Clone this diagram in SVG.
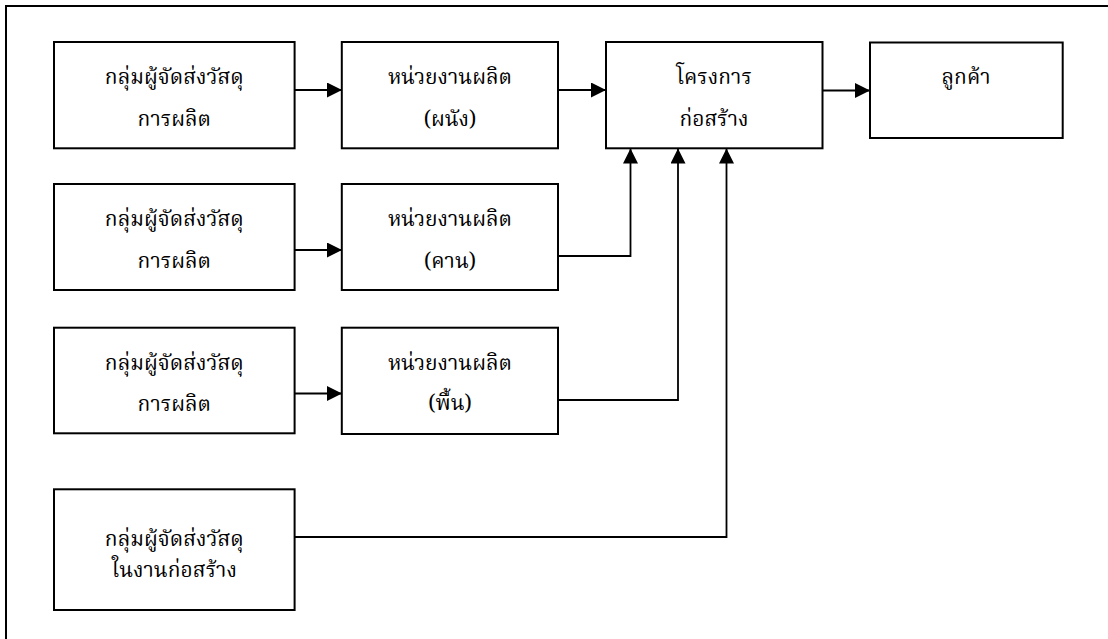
<svg xmlns="http://www.w3.org/2000/svg" width="1108" height="639" viewBox="0 0 1108 639">
<defs>
<style>
.box{fill:#fff;stroke:#000;stroke-width:2}
.frame{fill:none;stroke:#000;stroke-width:2}
.conn{fill:none;stroke:#000;stroke-width:1.8}
text{font-family:"Noto Serif Thai","Norasi","Kinnari","Laksaman","TH Sarabun New","Noto Sans Thai","Noto Sans","DejaVu Sans",serif;font-size:21px;font-weight:400;fill:#000;text-anchor:middle}
</style>
<marker id="ah" markerUnits="userSpaceOnUse" markerWidth="15" markerHeight="15" refX="15" refY="7.5" orient="auto">
<path d="M0,0 L15,7.5 L0,15 Z" fill="#000"/>
</marker>
</defs>
<rect width="1108" height="639" fill="#fff"/>
<path class="frame" d="M6,639 V6 H1108"/>
<g id="connectors">
<path class="conn" d="M295,90 H342" marker-end="url(#ah)"/>
<path class="conn" d="M558,90 H606" marker-end="url(#ah)"/>
<path class="conn" d="M822.5,90.5 H870" marker-end="url(#ah)"/>
<path class="conn" d="M295,250 H342" marker-end="url(#ah)"/>
<path class="conn" d="M295,393.5 H342" marker-end="url(#ah)"/>
<path class="conn" d="M558,256 H630.5 V148.5" marker-end="url(#ah)"/>
<path class="conn" d="M558,400 H678 V148.5" marker-end="url(#ah)"/>
<path class="conn" d="M295,537 H726.5 V148.5" marker-end="url(#ah)"/>
</g>
<g id="supplier1">
<rect class="box" x="54" y="42" width="240.6" height="106.3"/>
<text x="174.3" y="84">กลุ่มผู้จัดส่งวัสดุ</text>
<text x="174.3" y="126">การผลิต</text>
</g>
<g id="wall">
<rect class="box" x="341.8" y="42" width="216.2" height="106.3"/>
<text x="450" y="84">หน่วยงานผลิต</text>
<text x="450" y="126">(ผนัง)</text>
</g>
<g id="project">
<rect class="box" x="606" y="42" width="216.5" height="106.3"/>
<text x="714" y="84">โครงการ</text>
<text x="714" y="126">ก่อสร้าง</text>
</g>
<g id="customer">
<rect class="box" x="870" y="42.5" width="192.7" height="95.5"/>
<text x="966" y="84">ลูกค้า</text>
</g>
<g id="supplier2">
<rect class="box" x="54" y="184" width="240.6" height="106"/>
<text x="174.3" y="226">กลุ่มผู้จัดส่งวัสดุ</text>
<text x="174.3" y="268">การผลิต</text>
</g>
<g id="beam">
<rect class="box" x="341.8" y="184" width="216.2" height="106"/>
<text x="450" y="226">หน่วยงานผลิต</text>
<text x="450" y="268">(คาน)</text>
</g>
<g id="supplier3">
<rect class="box" x="54" y="327.7" width="240.6" height="105.6"/>
<text x="174.3" y="370">กลุ่มผู้จัดส่งวัสดุ</text>
<text x="174.3" y="411">การผลิต</text>
</g>
<g id="floor">
<rect class="box" x="341.8" y="327.7" width="216.2" height="106.3"/>
<text x="450" y="370">หน่วยงานผลิต</text>
<text x="450" y="410">(พื้น)</text>
</g>
<g id="supplier4">
<rect class="box" x="54" y="489.3" width="240.6" height="120.7"/>
<text x="174.3" y="546">กลุ่มผู้จัดส่งวัสดุ</text>
<text x="174.3" y="577">ในงานก่อสร้าง</text>
</g>
</svg>
